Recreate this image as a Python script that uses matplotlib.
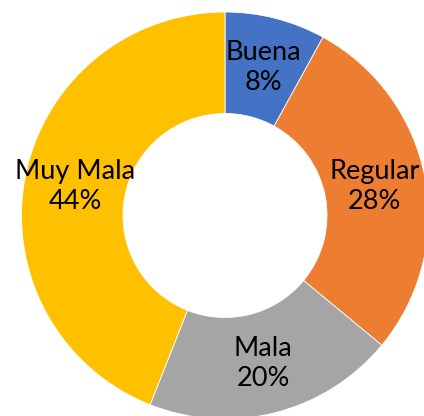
import matplotlib
matplotlib.use("Agg")
import matplotlib.pyplot as plt

categories = ["Buena", "Regular", "Mala", "Muy Mala"]
values = [8, 28, 20, 44]
colors = ["#4472C4", "#ED7D31", "#A5A5A5", "#FFC000"]

fig = plt.figure(figsize=(4.24, 4.16), dpi=100)
ax = fig.add_axes([0, 0, 1, 1])

R = 203.5
labels = [f"{c}\n{v}%" for c, v in zip(categories, values)]
wedges, texts = ax.pie(values, colors=colors, startangle=90, counterclock=False,
                       radius=R, center=(225, 200.5), labels=labels, labeldistance=0.75,
                       wedgeprops=dict(width=R - 102, edgecolor="white", linewidth=0.6),
                       textprops=dict(fontsize=19.5, family=["Lato", "DejaVu Sans"],
                                      color="black", ha="center", va="center",
                                      linespacing=1.25), frame=True)
for t in texts:
    t.set_ha("center")
ax.set_xlim(0, 424)
ax.set_ylim(0, 416)
ax.set_aspect("equal")
ax.axis("off")
fig.savefig("out.png", dpi=100)
